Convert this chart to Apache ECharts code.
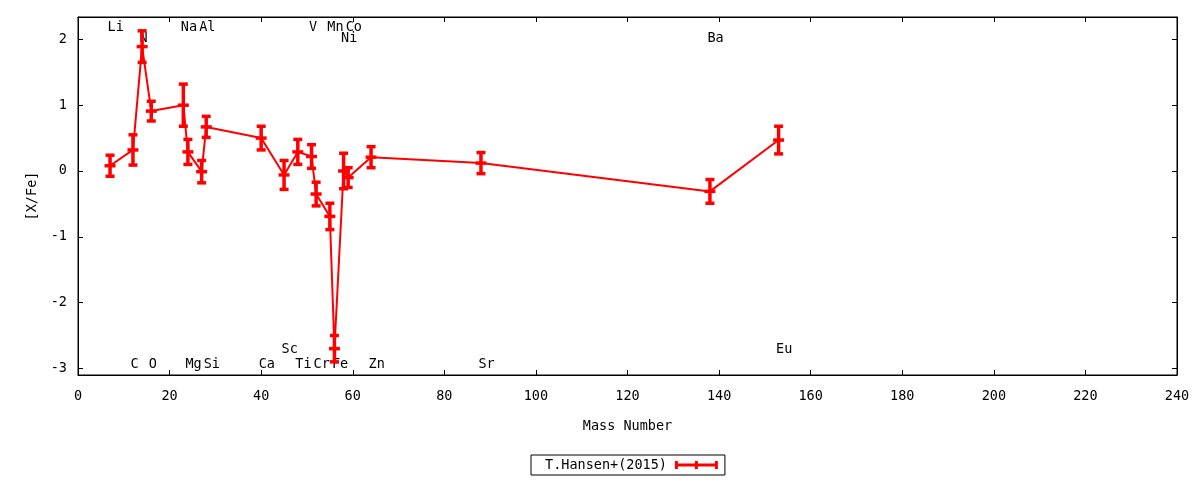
<!DOCTYPE html>
<html>
<head>
<meta charset="utf-8">
<script src="https://cdn.jsdelivr.net/npm/echarts@6/dist/echarts.min.js"></script>
<style>
  html, body { margin: 0; padding: 0; background: #fff; }
  #chart { width: 1200px; height: 480px; }
</style>
</head>
<body>
<div id="chart"></div>
<script>
// ---- data ----
const elements = ['Li', 'C', 'N', 'O', 'Na', 'Mg', 'Al', 'Si', 'Ca', 'Sc', 'Ti', 'V', 'Cr', 'Mn', 'Fe', 'Ni', 'Co', 'Zn', 'Sr', 'Ba', 'Eu'];
const massNumbers = [7, 12, 14, 16, 23, 24, 27, 28, 40, 45, 48, 51, 52, 55, 56, 58, 59, 64, 88, 138, 153];
const abundances = [0.08, 0.32, 1.89, 0.91, 1.00, 0.29, -0.01, 0.67, 0.50, -0.06, 0.29, 0.22, -0.35, -0.69, -2.70, 0.00, -0.10, 0.21, 0.12, -0.31, 0.47];
const errors = [0.16, 0.23, 0.24, 0.15, 0.32, 0.19, 0.17, 0.16, 0.18, 0.22, 0.19, 0.18, 0.18, 0.20, 0.20, 0.27, 0.15, 0.16, 0.16, 0.18, 0.21];
const seriesName = 'T.Hansen+(2015)';
const xTicks = { min: 0, max: 240, interval: 20 };
const yTickValues = [-3, -2, -1, 0, 1, 2];
const yRange = { min: -3.1, max: 2.34 };

// label rows (which row each element label sits in)
const labelRowTop = ['Li', 'Na', 'Al', 'V', 'Mn', 'Co'];
const labelRowTop2 = ['N', 'Ni', 'Ba'];
const labelRowBottom2 = ['Sc', 'Eu'];
// all others go to the bottom row

const FONT = '"DejaVu Sans Mono", monospace';
const RED = '#ff0000';

const chart = echarts.init(document.getElementById('chart'), null, { renderer: 'canvas' });

const lineData = massNumbers.map((m, i) => [m, abundances[i]]);
const errData = massNumbers.map((m, i) => [m, abundances[i], errors[i]]);
const labelData = massNumbers.map((m, i) => [m, abundances[i]]);

function errorBarItem(params, api) {
  const x = api.value(0), v = api.value(1), e = api.value(2);
  const p = api.coord([x, v]);
  const t = api.coord([x, v + e]);
  const b = api.coord([x, v - e]);
  const st = { fill: RED };
  return {
    type: 'group',
    children: [
      { type: 'rect', shape: { x: p[0] - 1.75, y: t[1], width: 3.5, height: b[1] - t[1] }, style: st },
      { type: 'rect', shape: { x: p[0] - 4.5, y: t[1] - 1.75, width: 9, height: 3.5 }, style: st },
      { type: 'rect', shape: { x: p[0] - 4.5, y: b[1] - 1.75, width: 9, height: 3.5 }, style: st },
      { type: 'rect', shape: { x: p[0] - 5.5, y: p[1] - 1.75, width: 11, height: 3.5 }, style: st }
    ]
  };
}

function labelItem(params, api) {
  const name = elements[params.dataIndex];
  const cs = params.coordSys;
  const px = api.coord([api.value(0), 0])[0] - 2.5;
  let y;
  if (labelRowTop.indexOf(name) >= 0) y = cs.y + 10.5;
  else if (labelRowTop2.indexOf(name) >= 0) y = cs.y + 21;
  else if (labelRowBottom2.indexOf(name) >= 0) y = cs.y + cs.height - 25.5;
  else y = cs.y + cs.height - 11;
  return {
    type: 'text',
    style: {
      x: px, y: y, text: name,
      fill: '#000', font: '13.5px ' + FONT,
      textAlign: 'left', textVerticalAlign: 'middle'
    }
  };
}

const axisCommon = {
  axisLine: { show: true, onZero: false, lineStyle: { color: '#000', width: 1 } },
  splitLine: { show: false }
};

const option = {
  backgroundColor: '#fff',
  animation: false,
  textStyle: { fontFamily: FONT, color: '#000' },
  grid: { left: 78, right: 23, top: 17, bottom: 105, show: true, borderColor: '#000', borderWidth: 1, backgroundColor: 'transparent' },
  legend: {
    data: [seriesName],
    left: 531, top: 455,
    align: 'right',
    orient: 'horizontal',
    icon: 'path://M0,0h3v8h-3z M20,0h3v8h-3z M40,0h3v8h-3z M0,2.5h43v3h-43z',
    itemWidth: 43, itemHeight: 8,
    borderColor: '#000', borderWidth: 1, borderRadius: 0,
    padding: [3, 7, 3, 14],
    textStyle: { fontFamily: FONT, fontSize: 13.5, color: '#000', padding: [0, 3, 0, 0] },
    itemStyle: { color: RED },
    selectedMode: false
  },
  xAxis: [
    Object.assign({}, axisCommon, {
      type: 'value', position: 'bottom',
      min: xTicks.min, max: xTicks.max, interval: xTicks.interval,
      name: 'Mass Number', nameLocation: 'middle', nameGap: 44,
      nameTextStyle: { fontFamily: FONT, fontSize: 13.5, color: '#000' },
      axisTick: { show: true, inside: true, length: 5, lineStyle: { color: '#000' } },
      axisLabel: { show: true, margin: 14, fontFamily: FONT, fontSize: 13.5, color: '#000' }
    }),
    Object.assign({}, axisCommon, {
      type: 'value', position: 'top',
      min: xTicks.min, max: xTicks.max, interval: xTicks.interval,
      axisTick: { show: true, inside: true, length: 5, lineStyle: { color: '#000' } },
      axisLabel: { show: false }
    })
  ],
  yAxis: [
    Object.assign({}, axisCommon, {
      type: 'value', position: 'left',
      min: yRange.min, max: yRange.max,
      name: '[X/Fe]', nameLocation: 'middle', nameGap: 38, nameRotate: 90,
      nameTextStyle: { fontFamily: FONT, fontSize: 13.5, color: '#000' },
      axisTick: { show: true, inside: true, length: 5, customValues: yTickValues, lineStyle: { color: '#000' } },
      axisLabel: { show: true, margin: 11, customValues: yTickValues, fontFamily: FONT, fontSize: 13.5, color: '#000' }
    }),
    Object.assign({}, axisCommon, {
      type: 'value', position: 'right',
      min: yRange.min, max: yRange.max,
      axisTick: { show: true, inside: true, length: 5, customValues: yTickValues, lineStyle: { color: '#000' } },
      axisLabel: { show: false, customValues: yTickValues }
    })
  ],
  series: [
    {
      name: 'labels',
      type: 'custom',
      xAxisIndex: 0, yAxisIndex: 0,
      renderItem: labelItem,
      data: labelData,
      z: 1, silent: true
    },
    {
      name: seriesName,
      type: 'line',
      xAxisIndex: 0, yAxisIndex: 0,
      data: lineData,
      symbol: 'none',
      lineStyle: { color: RED, width: 2 },
      itemStyle: { color: RED },
      z: 2
    },
    {
      name: 'errorbars',
      type: 'custom',
      xAxisIndex: 0, yAxisIndex: 0,
      renderItem: errorBarItem,
      data: errData,
      z: 3, silent: true
    }
  ]
};

chart.setOption(option);
</script>
</body>
</html>
